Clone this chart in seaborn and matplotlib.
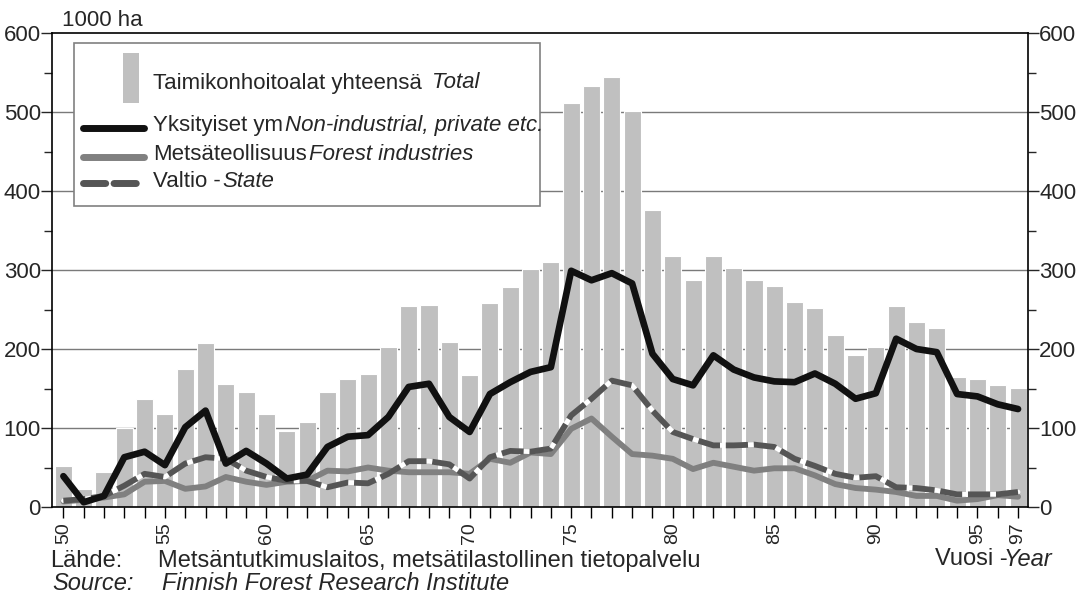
import matplotlib.pyplot as plt
import seaborn as sns
import numpy as np
import pandas as pd
from matplotlib.patches import Rectangle
from matplotlib.lines import Line2D
from matplotlib.ticker import MultipleLocator

years = list(range(1950, 1998))
total = [52, 23, 44, 100, 137, 118, 175, 207, 156, 145,
         118, 96, 108, 145, 162, 168, 203, 254, 256, 209,
         167, 258, 279, 301, 310, 511, 533, 544, 501, 376,
         318, 287, 318, 302, 287, 280, 259, 252, 218, 193,
         202, 254, 234, 227, 165, 162, 155, 151]
private = [39, 6, 14, 63, 70, 53, 101, 122, 55, 71,
           55, 36, 41, 76, 89, 91, 114, 152, 156, 114,
           95, 143, 158, 171, 177, 299, 287, 296, 283, 194,
           162, 154, 192, 174, 164, 159, 158, 169, 156, 137,
           144, 213, 200, 196, 143, 140, 130, 124]
forest = [7, 9, 12, 16, 32, 33, 23, 26, 38, 32,
          28, 32, 33, 46, 45, 50, 46, 44, 44, 44,
          42, 61, 56, 69, 67, 99, 112, 89, 67, 65,
          61, 48, 56, 51, 46, 49, 49, 40, 29, 24,
          22, 19, 14, 14, 8, 10, 15, 13]
state = [8, 10, 14, 27, 42, 38, 55, 63, 61, 46,
         38, 33, 33, 25, 31, 30, 42, 58, 58, 54,
         36, 63, 71, 70, 74, 116, 137, 160, 154, 122,
         95, 86, 78, 78, 79, 76, 61, 52, 42, 37,
         39, 25, 24, 21, 16, 16, 16, 19]
tick_years = [1950, 1955, 1960, 1965, 1970, 1975, 1980, 1985, 1990, 1995, 1997]
tick_labels = ["50", "55", "60", "65", "70", "75", "80", "85", "90", "95", "97"]

df = pd.DataFrame({"year": years, "total": total, "private": private,
                   "forest": forest, "state": state})

sns.set_style("white")
plt.rcParams['font.family'] = ['Liberation Sans', 'DejaVu Sans']

W, H = 1080, 596
fig = plt.figure(figsize=(W / 100, H / 100), dpi=100)
ax = fig.add_axes([52 / W, 1 - 507 / H, (1028 - 52) / W, (507 - 33) / H])


def px(x, y):
    return (x / W, 1 - y / H)


# bars
sns.barplot(data=df, x="year", y="total", native_scale=True, color="#c0c0c0",
            saturation=1, width=0.84, edgecolor="white", linewidth=0.8, ax=ax, zorder=2)

# lines
sns.lineplot(data=df, x="year", y="forest", color="#808080", lw=4.2, ax=ax, zorder=3)
sns.lineplot(data=df, x="year", y="state", color="white", lw=3.4, ax=ax, zorder=4)
sns.lineplot(data=df, x="year", y="state", color="#555555", lw=4.2, ax=ax, zorder=5,
             linestyle=(0, (3.8, 1.0)))
sns.lineplot(data=df, x="year", y="private", color="#111111", lw=4.8, ax=ax, zorder=6)

ax.set_xlim(1949.44, 1997.49)
ax.set_ylim(0, 600)
ax.yaxis.set_major_locator(MultipleLocator(100))
ax.yaxis.set_minor_locator(MultipleLocator(50))
ax.set_xticks(years, minor=True)
ax.set_xticks(tick_years)
ax.set_xticklabels(tick_labels, rotation=90, fontsize=14)
ax.tick_params(axis="x", which="both", direction="out", length=8, width=1,
               color="black", bottom=True, pad=3)
ax.tick_params(axis="y", which="major", direction="out", length=8, width=1,
               left=True, right=True, labelleft=True, labelright=True, labelsize=16, pad=0)
ax.tick_params(axis="y", which="minor", direction="out", length=6, width=1,
               left=True, right=True)
ax.set_xlabel("")
ax.set_ylabel("")
for y in range(100, 600, 100):
    ax.axhline(y, color="#7a7a7a", lw=1, zorder=1)
for s in ax.spines.values():
    s.set_color("black")
    s.set_linewidth(1.2)

fig.text(*px(62, 20), "1000 ha", fontsize=16, va="center", ha="left")

# legend
fig.patches.append(Rectangle(px(74, 206), 466 / W, 163 / H, transform=fig.transFigure,
                             facecolor="white", edgecolor="#808080", lw=1.2, zorder=10))
fig.patches.append(Rectangle(px(123, 103), 16 / W, 50 / H, transform=fig.transFigure,
                             facecolor="#c0c0c0", edgecolor="none", zorder=11))
lx = [83 / W, 144 / W]
fig.add_artist(Line2D(lx, [1 - 128 / H] * 2, color="#111111", lw=5,
                      solid_capstyle="round", zorder=11))
fig.add_artist(Line2D(lx, [1 - 157 / H] * 2, color="#808080", lw=5,
                      solid_capstyle="round", zorder=11))
fig.add_artist(Line2D(lx, [1 - 183 / H] * 2, color="#555555", lw=5,
                      linestyle=(0, (3.2, 1.2)), dash_capstyle="round", zorder=11))
fs = 16
fig.text(*px(153, 83), "Taimikonhoitoalat yhteensä", fontsize=fs, va="center", zorder=12)
fig.text(*px(432, 83), "Total", fontsize=fs, style="italic", va="center", zorder=12)
fig.text(*px(153, 125), "Yksityiset ym", fontsize=fs, va="center", zorder=12)
fig.text(*px(285, 125), "Non-industrial, private etc.", fontsize=fs, style="italic",
         va="center", zorder=12)
fig.text(*px(153, 154), "Metsäteollisuus", fontsize=fs, va="center", zorder=12)
fig.text(*px(309, 154), "Forest industries", fontsize=fs, style="italic", va="center", zorder=12)
fig.text(*px(153, 182), "Valtio -", fontsize=fs, va="center", zorder=12)
fig.text(*px(222, 182), "State", fontsize=fs, style="italic", va="center", zorder=12)

# source / axis notes
bf = 17
fig.text(*px(50, 561), "Lähde:", fontsize=bf, va="center")
fig.text(*px(158, 561), "Metsäntutkimuslaitos, metsätilastollinen tietopalvelu",
         fontsize=bf, va="center")
fig.text(*px(52, 584), "Source:", fontsize=bf, style="italic", va="center")
fig.text(*px(162, 584), "Finnish Forest Research Institute", fontsize=bf,
         style="italic", va="center")
fig.text(*px(935, 559), "Vuosi -", fontsize=bf, va="center")
fig.text(*px(1052, 559), "Year", fontsize=bf, style="italic", va="center", ha="right")

fig.savefig("out.png", dpi=100)
